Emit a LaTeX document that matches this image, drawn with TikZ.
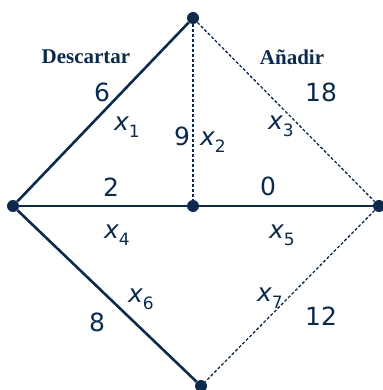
\documentclass[tikz,border=0pt]{standalone}
\usepackage{fontspec}
\setmainfont{Liberation Serif}
\newfontfamily\numfont{DejaVu Sans}
\usepackage{tikz}
\usetikzlibrary{positioning}
\definecolor{navy}{HTML}{0B2A4C}

% variable x_i in the sans figure font
\newcommand{\xvar}[1]{{\itshape x}\raisebox{-7pt}{\fontsize{17}{17}\selectfont #1}}

\begin{document}
\begin{tikzpicture}[
  x=1pt, y=-1pt,
  vertex/.style={circle, fill=navy, inner sep=0pt, minimum size=12pt},
  solidedge/.style={draw=navy, line width=2.6pt},
  dashedge/.style={draw=navy, line width=1.3pt, dash pattern=on 3pt off 2pt},
  weight/.style={text=navy, font=\numfont\fontsize{25}{25}\selectfont, inner sep=0pt},
  varlabel/.style={text=navy, font=\numfont\fontsize{25}{25}\selectfont, inner sep=0pt},
  side/.style={text=navy, font=\bfseries\fontsize{21}{21}\selectfont, inner sep=0pt}
]
\useasboundingbox (0,0) rectangle (382,390);

% --- vertices -----------------------------------------------------------------
\node[vertex] (top) at (193,18)  {};
\node[vertex] (lft) at (13,206)  {};
\node[vertex] (mid) at (193,206) {};
\node[vertex] (rgt) at (379,206) {};
\node[vertex] (bot) at (201,386) {};

% --- edges --------------------------------------------------------------------
\draw[solidedge] (lft) -- (top);
\draw[dashedge]  (top) -- (mid);
\draw[dashedge]  (top) -- (rgt);
\draw[solidedge] (lft) -- (mid);
\draw[solidedge] (mid) -- (rgt);
\draw[solidedge] (lft) -- (bot);
\draw[dashedge]  (rgt) -- (bot);

% --- the two sides ------------------------------------------------------------
\node[side] (desc) at (86,57)  {Descartar};
\node[side] (anad) at (292,57) {Añadir};

% --- weights ------------------------------------------------------------------
\node[weight] (w1) at (102,92)  {6};
\node[weight] (w2) at (182,136) {9};
\node[weight] (w3) at (321,92)  {18};
\node[weight] (w4) at (111,187) {2};
\node[weight] (w5) at (268,186) {0};
\node[weight] (w6) at (97,322)  {8};
\node[weight] (w7) at (321,316) {12};

% --- variables ----------------------------------------------------------------
\node[varlabel] (x1) at (127,127) {\xvar{1}};
\node[varlabel] (x2) at (213,142) {\xvar{2}};
\node[varlabel] (x3) at (281,126) {\xvar{3}};
\node[varlabel] (x4) at (117,235) {\xvar{4}};
\node[varlabel] (x5) at (282,235) {\xvar{5}};
\node[varlabel] (x6) at (141,299) {\xvar{6}};
\node[varlabel] (x7) at (270,298) {\xvar{7}};

\end{tikzpicture}
\end{document}
